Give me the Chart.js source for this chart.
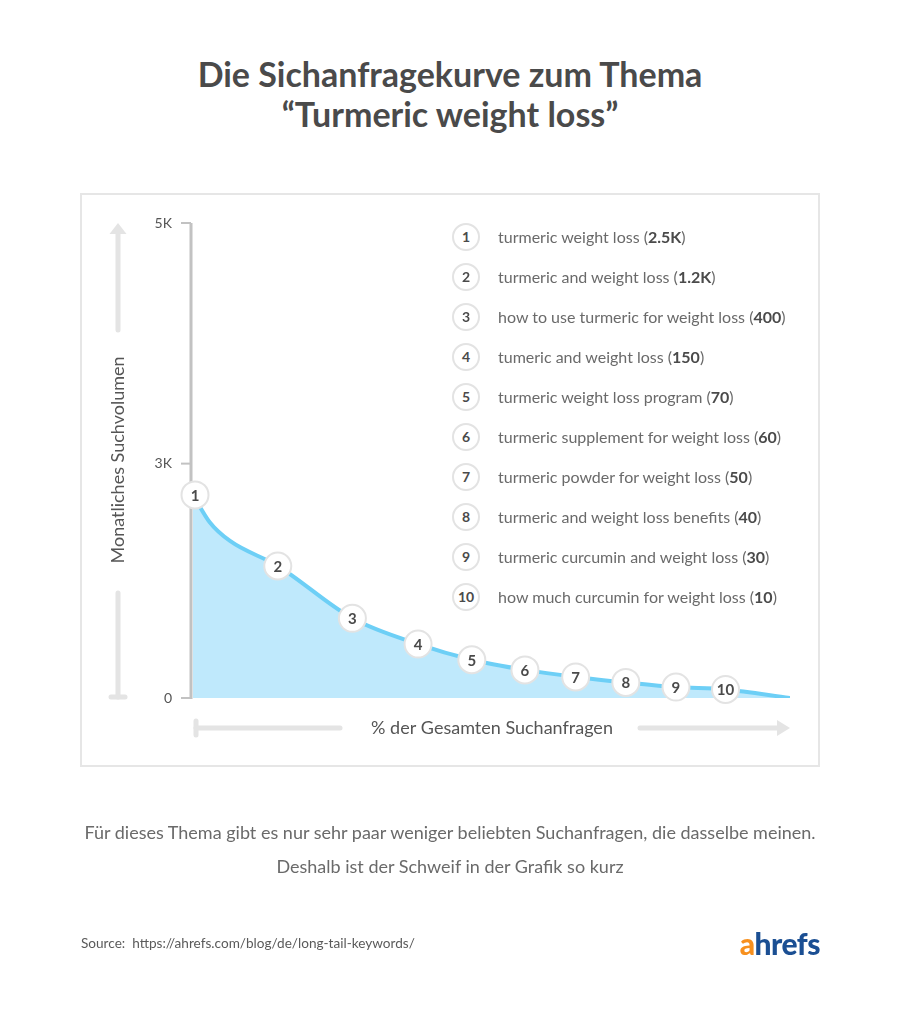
<!DOCTYPE html>
<html><head><meta charset="utf-8">
<script src="https://cdn.jsdelivr.net/npm/chart.js@4"></script>
<style>
body{margin:0;background:#fff;font-family:Lato,"Noto Sans",sans-serif;}
#wrap{position:relative;width:900px;height:1015px;overflow:hidden;background:#fff}
#box{position:absolute;left:80px;top:193px;width:736px;height:570px;border:2px solid #e6e6e6}
canvas{position:absolute;left:0;top:0}
.title{position:absolute;left:0;top:54px;width:900px;text-align:center;font-weight:700;font-size:34px;line-height:40px;color:#4a4a4a}
#legend{position:absolute;left:452px;top:223px}
.li{position:absolute;left:0;height:28px;white-space:nowrap}
.li .c{position:absolute;left:0;top:0;width:24px;height:24px;border:2px solid #e3e3e3;border-radius:50%;text-align:center;line-height:24px;font-weight:700;font-size:14px;color:#4a4a4a;background:#fff}
.li .t{position:absolute;left:46px;top:0;line-height:28px;font-size:16px;color:#6a6a6a}
.li .t b{color:#4a4a4a}
.foot{position:absolute;left:0;top:815px;width:900px;text-align:center;font-size:18px;line-height:34px;color:#6a6a6a}
.src{position:absolute;left:81px;top:933px;font-size:13.6px;line-height:20px;color:#5a5a5a}
.logo{position:absolute;right:80px;top:925px;font-size:30px;font-weight:900;line-height:36px;letter-spacing:-0.5px}
</style></head>
<body>
<div id="wrap">
  <div class="title">Die Sichanfragekurve zum Thema<br>“Turmeric weight loss”</div>
  <div id="box"></div>
  <canvas id="c" width="900" height="1015"></canvas>
  <div id="legend"></div>
  <div class="foot">Für dieses Thema gibt es nur sehr paar weniger beliebten Suchanfragen, die dasselbe meinen.<br>Deshalb ist der Schweif in der Grafik so kurz</div>
  <div class="src">Source:&nbsp; https://ahrefs.com/blog/de/long-tail-keywords/</div>
  <div class="logo"><span style="color:#f7901e">a</span><span style="color:#1b4f93">hrefs</span></div>
</div>
<script>
// ---- data ----
const keywords = ["turmeric weight loss","turmeric and weight loss","how to use turmeric for weight loss","tumeric and weight loss","turmeric weight loss program","turmeric supplement for weight loss","turmeric powder for weight loss","turmeric and weight loss benefits","turmeric curcumin and weight loss","how much curcumin for weight loss"];
const volumes = ["2.5K","1.2K","400","150","70","60","50","40","30","10"];
// curve (x: % of total searches, y: curve height on the 0–3K axis)
const pointLabels = ["1", "", "", "2", "3", "4", "5", "6", "7", "8", "9", "10", ""];
const curveX =      [0,   2.8, 6.2, 14.2, 26.7, 37.7, 46.7, 55.6, 64.1, 72.5, 80.9, 89.2, 100];
const curveY =      [2600, 2250, 2010, 1690, 1020, 690, 490, 360, 270, 200, 140, 110, 0];
const yTickValues = [0, 3000, 6080];
const yTickLabels = ["0", "3K", "5K"];
const yAxisTitle = "Monatliches Suchvolumen";
const xAxisTitle = "% der Gesamten Suchanfragen";

// legend (HTML)
const leg = document.getElementById('legend');
keywords.forEach((k,i)=>{
  const d=document.createElement('div');d.className='li';d.style.top=(i*40)+'px';
  d.innerHTML='<div class="c">'+(i+1)+'</div><div class="t">'+k+' (<b>'+volumes[i]+'</b>)</div>';
  leg.appendChild(d);
});

const FONT = 'Lato, "Noto Sans", sans-serif';

const decor = {
  id:'decor',
  beforeDatasetsDraw(chart){
    const ctx=chart.ctx, y=chart.scales.y, x=chart.scales.x;
    const ca=chart.chartArea;
    ctx.save();
    // axis line
    ctx.strokeStyle='#c2c2c2';ctx.lineWidth=3;
    ctx.beginPath();ctx.moveTo(ca.left-2,y.getPixelForValue(yTickValues[yTickValues.length-1]));ctx.lineTo(ca.left-2,y.getPixelForValue(0)+1);ctx.stroke();
    // ticks + labels
    ctx.lineWidth=2;
    ctx.fillStyle='#555';ctx.font='14px '+FONT;ctx.textAlign='right';ctx.textBaseline='middle';
    yTickValues.forEach((v,i)=>{
      const py=y.getPixelForValue(v);
      ctx.beginPath();ctx.moveTo(ca.left-12,py);ctx.lineTo(ca.left-2,py);ctx.stroke();
      ctx.fillText(yTickLabels[i],ca.left-21,py);
    });
    // y axis title + arrow
    const ax=118, top=y.getPixelForValue(yTickValues[yTickValues.length-1]), bot=y.getPixelForValue(0);
    ctx.strokeStyle='#e4e4e4';ctx.fillStyle='#e4e4e4';ctx.lineWidth=5;ctx.lineCap='round';
    ctx.beginPath();ctx.moveTo(ax,top+10);ctx.lineTo(ax,330);ctx.stroke();
    ctx.beginPath();ctx.moveTo(ax,top);ctx.lineTo(ax+8.5,top+11);ctx.lineTo(ax-8.5,top+11);ctx.closePath();ctx.fill();
    ctx.beginPath();ctx.moveTo(ax,593);ctx.lineTo(ax,bot-1);ctx.stroke();
    ctx.beginPath();ctx.moveTo(ax-7,bot-1);ctx.lineTo(ax+7,bot-1);ctx.stroke();
    ctx.save();ctx.translate(ax,(top+bot)/2-0.5);ctx.rotate(-Math.PI/2);
    ctx.fillStyle='#555';ctx.font='18px '+FONT;ctx.textAlign='center';ctx.textBaseline='middle';
    ctx.fillText(yAxisTitle,0,0);ctx.restore();
    // x axis title + arrow
    const ay=728;
    ctx.beginPath();ctx.moveTo(196,ay);ctx.lineTo(340,ay);ctx.stroke();
    ctx.beginPath();ctx.moveTo(196,ay-7);ctx.lineTo(196,ay+7);ctx.stroke();
    ctx.beginPath();ctx.moveTo(640,ay);ctx.lineTo(778,ay);ctx.stroke();
    const xr=x.getPixelForValue(100);
    ctx.beginPath();ctx.moveTo(xr,ay);ctx.lineTo(xr-13,ay-8);ctx.lineTo(xr-13,ay+8);ctx.closePath();ctx.fill();
    ctx.fillStyle='#555';ctx.font='18px '+FONT;ctx.textAlign='center';ctx.textBaseline='middle';
    ctx.fillText(xAxisTitle,492,ay);
    ctx.restore();
  },
  afterDatasetsDraw(chart){
    const ctx=chart.ctx, meta=chart.getDatasetMeta(0);
    ctx.save();
    meta.data.forEach((p,i)=>{
      if(!pointLabels[i])return;
      let px=p.x; if(i===0) px+=2;
      ctx.beginPath();ctx.arc(px,p.y,13.5,0,Math.PI*2);
      ctx.fillStyle='#fff';ctx.fill();ctx.lineWidth=2;ctx.strokeStyle='#e3e3e3';ctx.stroke();
      ctx.fillStyle='#4a4a4a';ctx.font='bold 15px '+FONT;ctx.textAlign='center';ctx.textBaseline='middle';
      ctx.fillText(pointLabels[i],px,p.y+1);
    });
    ctx.restore();
  }
};

new Chart(document.getElementById('c'),{
  type:'line',
  data:{datasets:[{
    data:curveX.map((v,i)=>({x:v,y:curveY[i]})),
    borderColor:'#6dcff6',borderWidth:4,backgroundColor:'#bfe9fc',
    fill:'origin',pointRadius:0,cubicInterpolationMode:'monotone'
  }]},
  options:{
    responsive:false,animation:false,
    layout:{padding:{left:193,right:110,top:223,bottom:317}},
    plugins:{legend:{display:false},tooltip:{enabled:false}},
    scales:{
      x:{type:'linear',min:0,max:100,display:false},
      y:{type:'linear',min:0,max:yTickValues[yTickValues.length-1],display:false}
    }
  },
  plugins:[decor]
});
</script>
</body></html>
